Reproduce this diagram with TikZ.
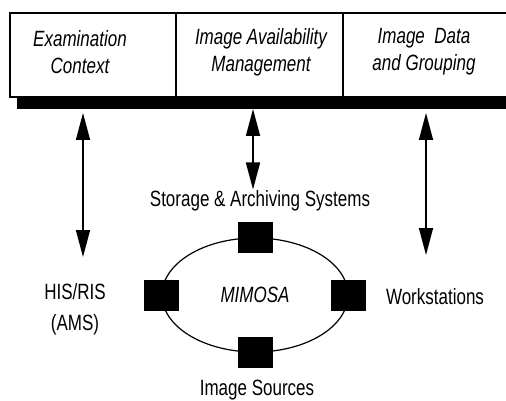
\documentclass[tikz,border=0pt]{standalone}
\usepackage{graphicx}
\usepackage{fontspec}
\setmainfont{Liberation Sans}
\usetikzlibrary{arrows.meta,shapes.geometric}
\newcommand{\tallx}[1]{\scalebox{1}[1.3]{#1}}

\begin{document}
\begin{tikzpicture}[x=1pt,y=-1pt,
  lbl/.style={font=\fontsize{17}{27}\selectfont, align=center, inner sep=1pt},
  head/.style={font=\fontsize{17}{27}\selectfont\itshape, align=center, inner sep=1pt},
  port/.style={fill=black, minimum width=35pt, minimum height=31pt, inner sep=0pt},
  dbl/.style={line width=1.6pt, {Triangle[length=27pt,width=14pt]}-{Triangle[length=27pt,width=14pt]}}]
\useasboundingbox (0,0) rectangle (506,401);
%
\fill (17,97) rectangle (520,109); %shadow under the header
\draw[line width=1.5pt, fill=white] (10,13) rectangle (520,97);
\draw[line width=1.2pt] (176,13) -- (176,97);
\draw[line width=1.2pt] (343,13) -- (343,97);
%
\node[head] (exam) at (80,52) {\tallx{Examination}\\\tallx{Context}};
\node[head] (avail) at (261,52) {\tallx{Image Availability}\\\tallx{Management}};
\node[head] (group) at (424,52) {\tallx{Image\ \ Data}\\\tallx{and Grouping}};
%
\node[draw, ellipse, line width=1.2pt, minimum width=186pt, minimum height=114pt, inner sep=0pt, font=\fontsize{17}{27}\selectfont\itshape] (ring) at (255,295) {\tallx{MIMOSA}};
\node[port] (store port) at (ring.north) {};
\node[port] (his port) at (ring.west) {};
\node[port] (work port) at (ring.east) {};
\node[port] (source port) at (ring.south) {};
%
\node[lbl] (storage) at (260,201) {\tallx{Storage \& Archiving Systems}};
\node[lbl] (sources) at (257,390) {\tallx{Image Sources}};
\node[lbl] (his) at (75,309) {\tallx{HIS/RIS}\\[4pt]\tallx{(AMS)}};
\node[lbl] (work) at (435,297) {\tallx{Workstations}};
%
\coordinate (exam bar) at (83,113);
\coordinate (his top) at (83,257);
\coordinate (avail bar) at (253,109);
\coordinate (group bar) at (426,113);
\coordinate (work top) at (426,255);
\draw[dbl] (exam bar) -- (his top);
\draw[dbl] (avail bar) -- (storage.north -| avail bar);
\draw[dbl] (group bar) -- (work top);
\end{tikzpicture}
\end{document}
